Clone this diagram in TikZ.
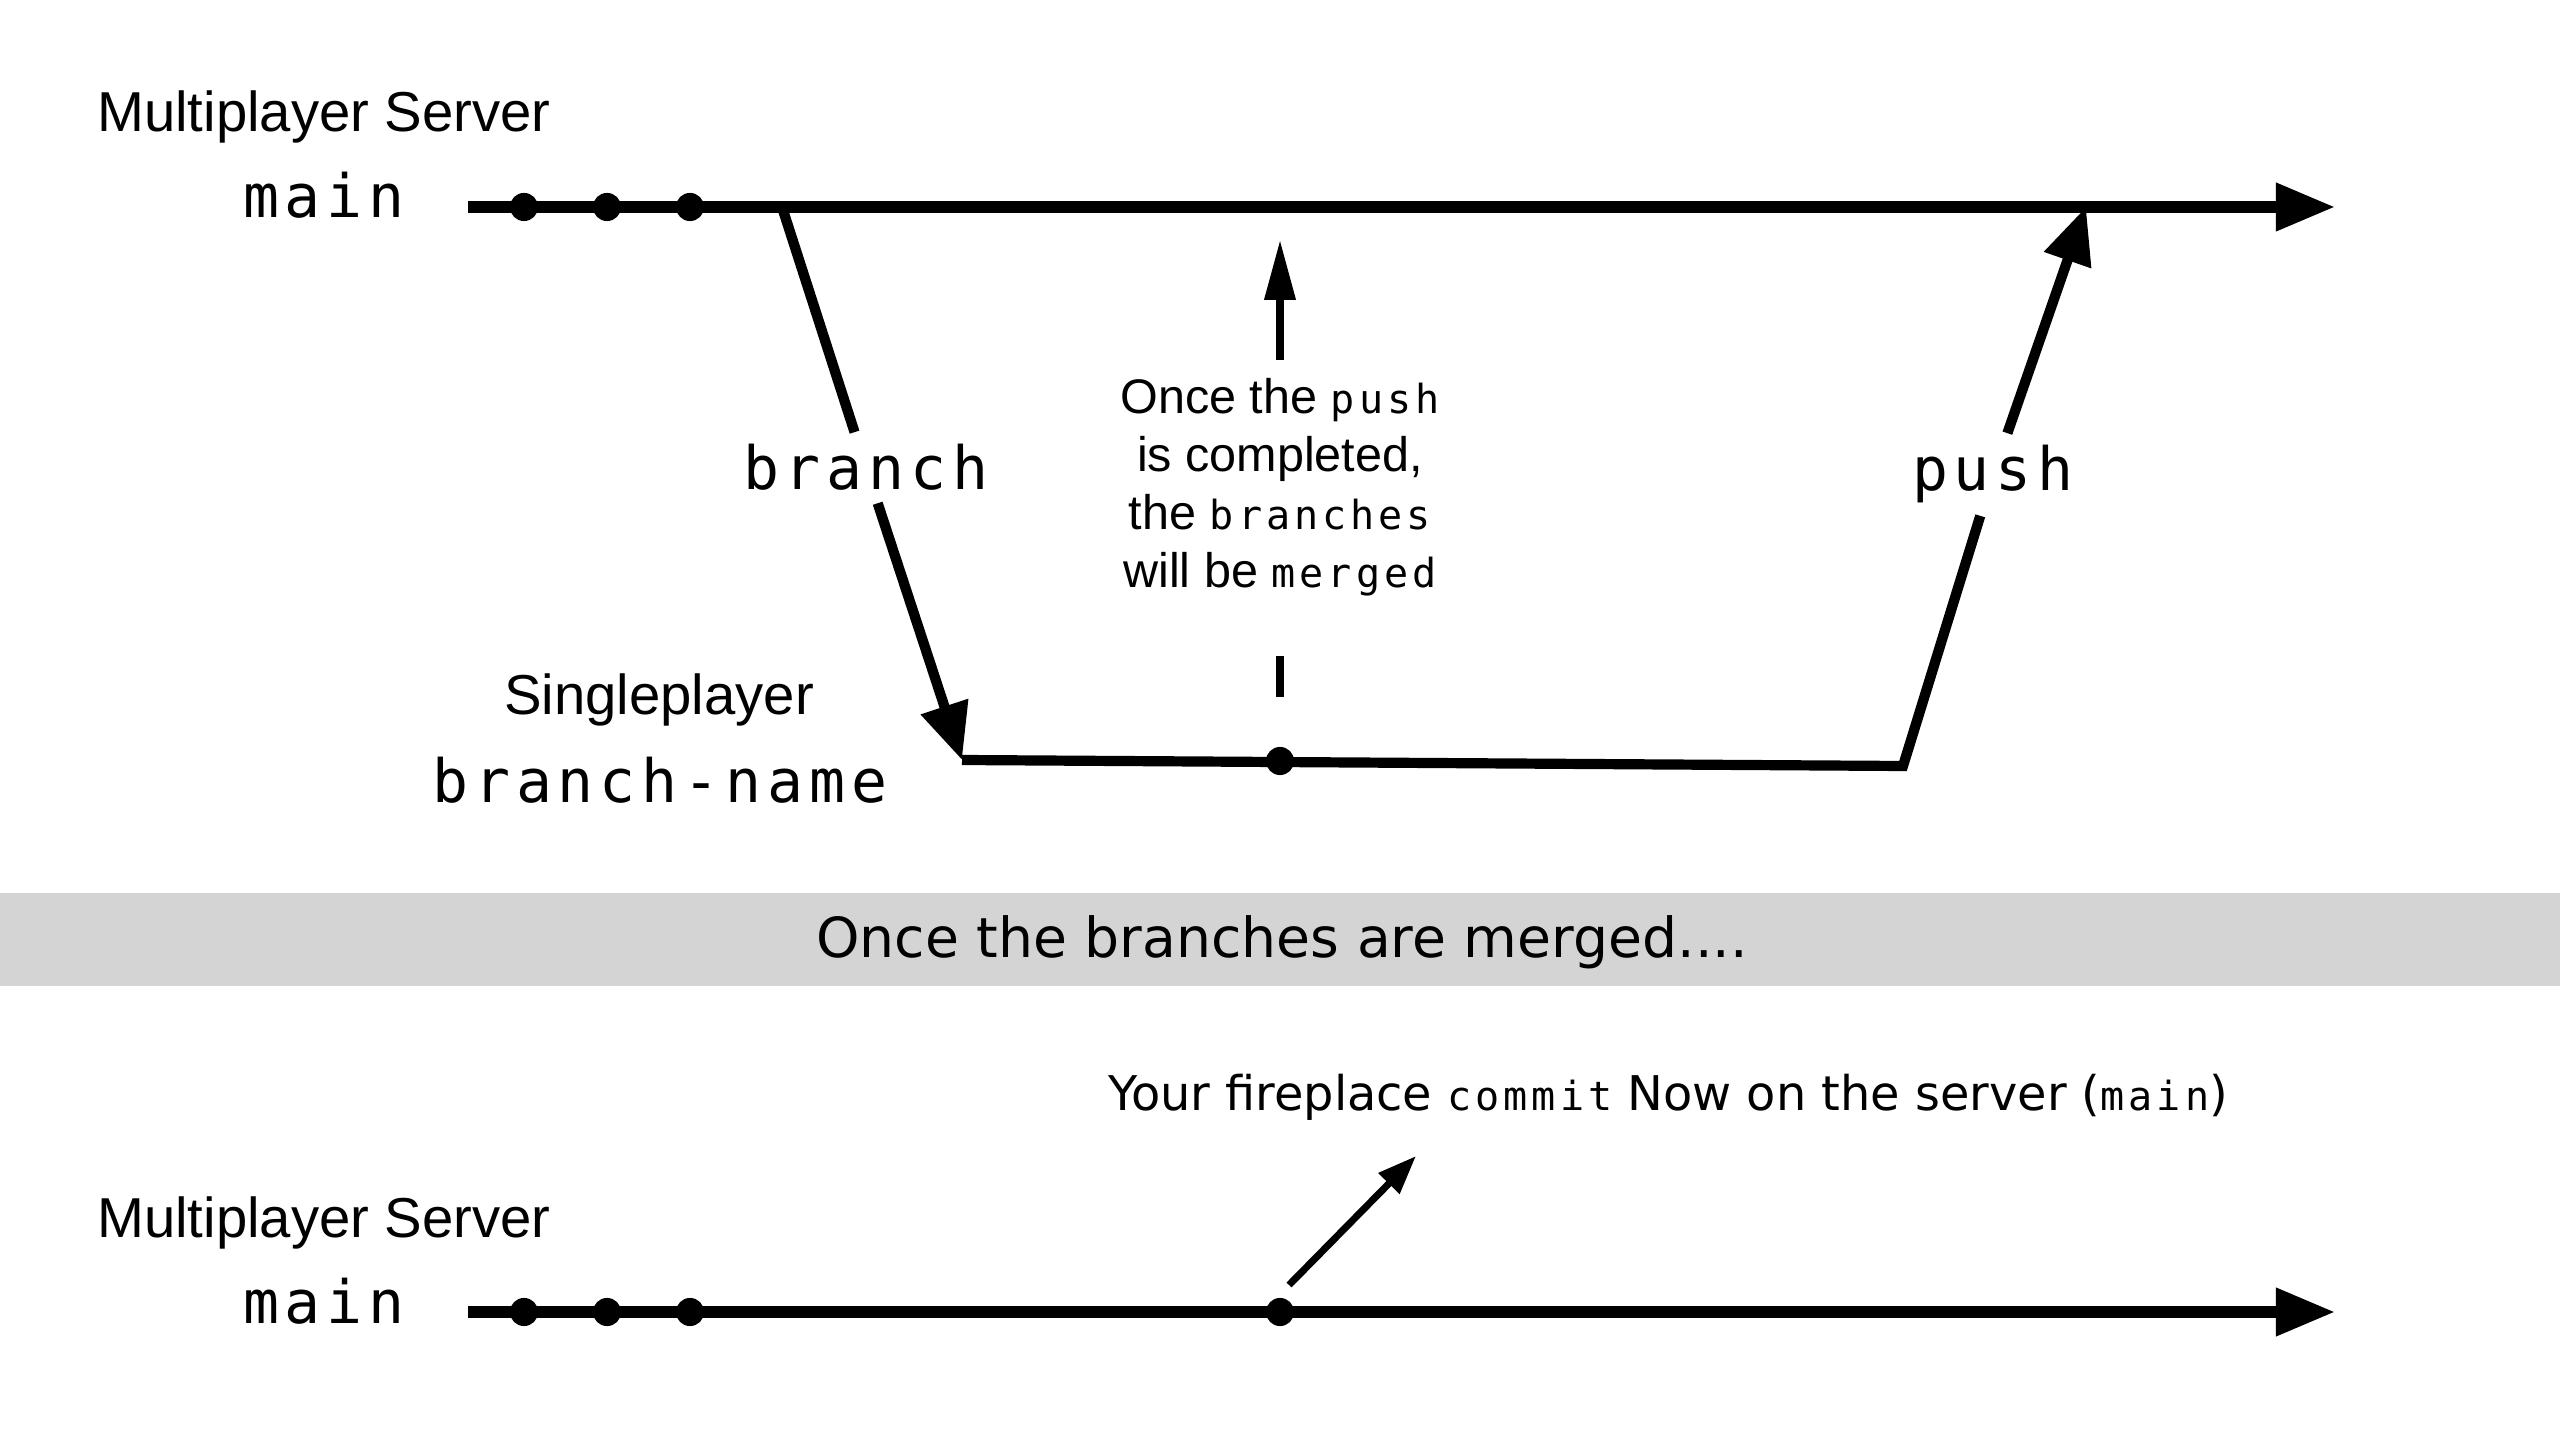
\documentclass[tikz,border=0pt]{standalone}
\usepackage{fontspec}
\setmainfont{Liberation Sans}
\newfontfamily\codefont[LetterSpace=10]{DejaVu Sans Mono}
\newfontfamily\bandfont{DejaVu Sans}
\usetikzlibrary{arrows.meta}

\newcommand{\smallcode}[1]{{\codefont\fontsize{11.4}{14}\selectfont #1}}
\definecolor{bandgray}{HTML}{D4D4D4}

\tikzset{
  lane/.style={line width=3.2pt},
  hop/.style={line width=2.9pt},
  bigtip/.style={-{Triangle[length=16pt,width=13.5pt]}},
  commit/.style={circle, fill, inner sep=0pt, minimum size=8pt},
  title/.style={font=\fontsize{16}{19}\selectfont, anchor=base},
  codelabel/.style={font=\codefont\fontsize{17}{20}\selectfont, anchor=base},
}

\begin{document}
\begin{tikzpicture}[x=0.01cm, y=-0.01cm]
  \useasboundingbox (0,0) rectangle (2560,1440);

  % before the merge
  \node[title] (srvtop) at (324,132) {Multiplayer Server};
  \node[codelabel] (maintop) at (324,218) {main};
  \coordinate (start) at (468,207);
  \coordinate (fork) at (782,207);
  \coordinate (land) at (2086,207);
  \coordinate (tip) at (2335,207);
  \draw[lane, -{Triangle[length=16.8pt,width=13pt]}] (start) -- (tip);
  \foreach \x/\n in {524/a,607/b,690/c}
    \node[commit] (\n) at (\x,207) {};

  \node[title] (single) at (659,715) {Singleplayer};
  \node[codelabel] (brname) at (660,803) {branch-name};
  \coordinate (bstart) at (962,760);
  \coordinate (bend) at (1903,766);
  \node[codelabel] (brlabel) at (866,490) {branch};
  \node[codelabel] (pushlabel) at (1993,491) {push};
  \draw[hop] (fork) -- (brlabel);
  \draw[hop, bigtip] (brlabel) -- (bstart);
  \draw[hop, line join=miter] (bstart) -- (bend) -- (pushlabel);
  \draw[hop, bigtip] (pushlabel) -- (land);
  \node[commit] (work) at (1280,761) {};

  \coordinate (notefrom) at (1280,697);
  \coordinate (noteto) at (1280,240);
  \node[align=center, font=\fontsize{13.8}{16.5}\selectfont, inner sep=5pt] (note) at (1280,487)
    {Once the \smallcode{push}\\is completed,\\the \smallcode{branches}\\will be \smallcode{merged}};
  \draw[line width=2pt, shorten >=12pt] (notefrom) -- (note);
  \draw[line width=2pt, -{Triangle[length=17pt,width=8.5pt]}] (note) -- (noteto);

  % band
  \fill[bandgray] (0,893) rectangle (2560,986);
  \node[font=\bandfont\fontsize{15.7}{19}\selectfont, anchor=base] (merged) at (1282,957)
    {Once the branches are merged....};

  % after the merge
  \node[title] (srvbot) at (324,1237) {Multiplayer Server};
  \node[codelabel] (mainbot) at (324,1323) {main};
  \coordinate (start2) at (468,1312);
  \coordinate (tip2) at (2335,1312);
  \draw[lane, -{Triangle[length=16.8pt,width=13pt]}] (start2) -- (tip2);
  \foreach \x/\n in {524/a2,607/b2,690/c2,1280/fire}
    \node[commit] (\n) at (\x,1312) {};
  \node[font=\bandfont\fontsize{13.6}{16}\selectfont, anchor=base] (fireplace) at (1668,1110)
    {Your fireplace \smallcode{commit} Now on the server (\smallcode{main})};
  \coordinate (hintfrom) at (1289,1285);
  \coordinate (hintto) at (1416,1156);
  \draw[line width=2pt, -{Triangle[length=11pt,width=8pt]}] (hintfrom) -- (hintto);
\end{tikzpicture}
\end{document}
